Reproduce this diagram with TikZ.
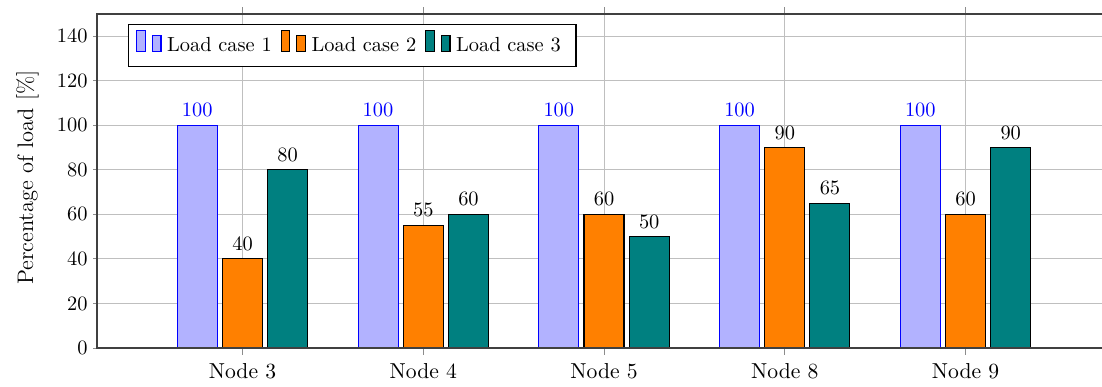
\documentclass[tikz,border=0pt]{standalone}
\begin{document}
\begin{tikzpicture}[x=0.49pt,y=-0.49pt,
  font=\fontsize{10}{12}\selectfont,
  gridline/.style={black!25, line width=0.45pt},
  tickline/.style={black!45, line width=0.45pt},
  frame/.style={black!75, line width=0.6pt},
  barA/.style={draw=blue, fill=blue!30, line width=0.5pt},
  barB/.style={draw=black, fill=orange, line width=0.5pt},
  barC/.style={draw=black, fill=teal, line width=0.5pt},
  vallabel/.style={anchor=base, inner sep=0pt},
  ticklabel/.style={inner sep=0pt},
]
\useasboundingbox (0,0) rectangle (1102,386);

% horizontal grid lines and y tick labels
\foreach \v in {0,20,...,140} {
  \draw[gridline] (97,{348-\v*2.2267}) -- (1102,{348-\v*2.2267});
  \draw[tickline] (93,{348-\v*2.2267}) -- (97,{348-\v*2.2267});
  \node[ticklabel, anchor=east] (yt\v) at (88,{348-\v*2.2267}) {\v};
}

% groups of bars, one per node
\foreach \nm/\a/\b/\c [count=\k from 0] in {3/100/40/80, 4/100/55/60, 5/100/60/50, 8/100/90/65, 9/100/60/90} {
  \pgfmathsetmacro\cx{242.5+\k*180.75}
  \draw[gridline] (\cx,14) -- (\cx,348);
  \draw[tickline] (\cx,7) -- (\cx,14);
  \draw[tickline] (\cx,348) -- (\cx,355);
  \draw[barA] ({\cx-65.2},348) rectangle ({\cx-25.2},{348-\a*2.2267});
  \draw[barB] ({\cx-20},348) rectangle ({\cx+20},{348-\b*2.2267});
  \draw[barC] ({\cx+25.2},348) rectangle ({\cx+65.2},{348-\c*2.2267});
  \node[vallabel, text=blue] (va\k) at ({\cx-45.2},{348-\a*2.2267-8.6}) {\a};
  \node[vallabel] (vb\k) at (\cx,{348-\b*2.2267-8.6}) {\b};
  \node[vallabel] (vc\k) at ({\cx+45.2},{348-\c*2.2267-8.6}) {\c};
  \node[anchor=base, inner sep=0pt, font=\fontsize{10.6}{12}\selectfont] (xl\k) at (\cx,378) {Node \nm};
}

% axis frame (open on the right)
\draw[frame] (1102,14) -- (97,14) -- (97,348) -- (1102,348);

% y axis label
\node[rotate=90, anchor=base, inner sep=0pt, font=\fontsize{11}{13}\selectfont] (ylab) at (33,177.5) {Percentage of load [\%]};

% legend
\draw[black, line width=0.5pt, fill=white] (128.3,24.7) rectangle (576,66.3);
\foreach \st/\lab [count=\j from 0] in {barA/Load case 1, barB/Load case 2, barC/Load case 3} {
  \pgfmathsetmacro\dx{\j*144.5}
  \draw[\st] ({136.7+\dx},51.3) rectangle ({145.3+\dx},30);
  \draw[\st] ({152.3+\dx},51.3) rectangle ({161+\dx},35.3);
  \node[anchor=base west, inner sep=0pt] (leg\j) at ({166.7+\dx},51.3) {\lab};
}
\end{tikzpicture}
\end{document}
